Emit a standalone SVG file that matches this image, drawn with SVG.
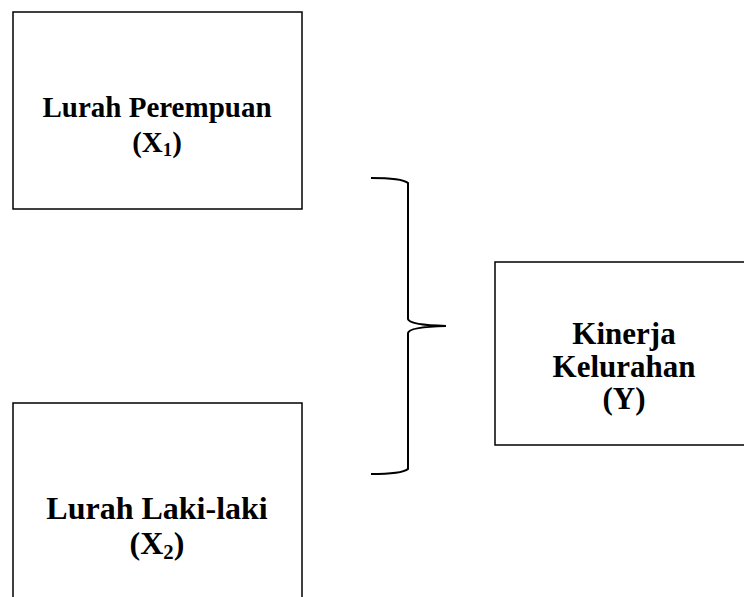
<svg xmlns="http://www.w3.org/2000/svg" width="744" height="597" viewBox="0 0 744 597">
<style>
.box{fill:#fff;stroke:#000;stroke-width:1.5}
.t{font-family:"Liberation Serif","Times New Roman",serif;font-weight:bold;text-anchor:middle;fill:#000}
.a{font-size:29px}
.b{font-size:32px}
.c{font-size:31px}
.sub{font-size:0.65em}
.brace{fill:none;stroke:#000;stroke-width:2}
</style>
<rect width="744" height="597" fill="#fff"/>
<g id="node-x1">
<rect class="box" x="13" y="12" width="289" height="197"/>
<text class="t a" x="157" y="117">Lurah Perempuan</text>
<text class="t a" x="157" y="152">(X<tspan class="sub" dy="4">1</tspan><tspan dy="-4">)</tspan></text>
</g>
<g id="node-x2">
<rect class="box" x="13" y="403" width="289" height="210"/>
<text class="t b" x="157" y="519">Lurah Laki-laki</text>
<text class="t b" x="157" y="554">(X<tspan class="sub" dy="5">2</tspan><tspan dy="-5">)</tspan></text>
</g>
<g id="node-y">
<rect class="box" x="495" y="262" width="260" height="183"/>
<text class="t c" x="624" y="344">Kinerja</text>
<text class="t c" x="624" y="377">Kelurahan</text>
<text class="t c" x="624" y="409">(Y)</text>
</g>
<g id="connectors">
<path class="brace" d="M371,178 Q402,178 408,183 L408,319 Q409,325 446,326 Q409,327 408,333 L408,469 Q402,474 371,474"/>
</g>
</svg>
